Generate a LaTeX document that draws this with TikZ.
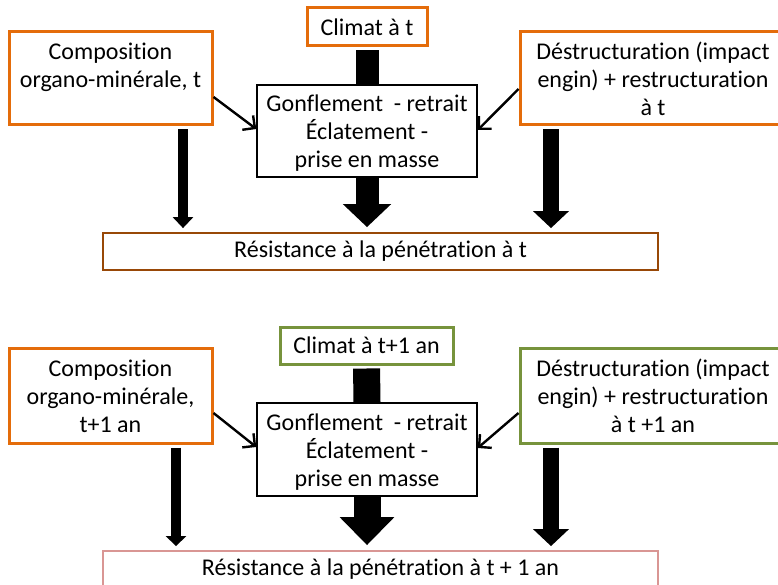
\documentclass[tikz,border=0pt]{standalone}
\usepackage{fontspec}
\setmainfont{Carlito}[Ligatures=NoCommon]
\usetikzlibrary{arrows.meta}
\definecolor{orng}{HTML}{E46C0A}
\definecolor{grn}{HTML}{77933C}
\definecolor{brwn}{HTML}{984807}
\definecolor{pnk}{HTML}{D99694}
\newcommand{\TopL}{\rule{0pt}{26pt}}
\newcommand{\BotL}{\rule[-8.4pt]{0pt}{0pt}}
\begin{document}
\begin{tikzpicture}[x=1pt,y=-1pt,
  box/.style={draw, inner sep=0pt, align=center, fill=white, font=\fontsize{24}{28}\selectfont},
  obox/.style={box, draw=orng, line width=3pt},
  gbox/.style={box, draw=grn, line width=3pt},
  kbox/.style={box, draw=black, line width=1.5pt},
  thinarrow/.style={line width=2.4pt, -{Straight Barb[length=9pt,width=18pt,line width=2.4pt]}}
]
\useasboundingbox (0,0) rectangle (778,585);
\clip (0,0) rectangle (778,585);

% ---------- top half ----------
\node[obox, minimum width=203pt, minimum height=93pt] (c1) at (110.5,78.5) {\TopL Composition\\organo-minérale, t\\\BotL};
\node[obox, minimum width=120pt, minimum height=38pt] (k1) at (367,27) {Climat à t};
\node[kbox, minimum width=220pt, minimum height=92pt] (g1) at (367,131) {\TopL Gonflement \ - retrait\\Éclatement -\\prise en masse\BotL};
\node[obox, minimum width=266pt, minimum height=93pt] (d1) at (653,78.5) {\TopL Déstructuration (impact\\engin) + restructuration\\à t\BotL};
\node[box, draw=brwn, line width=1.8pt, minimum width=555pt, minimum height=37pt] (r1) at (380.5,251.5) {Résistance à la pénétration à t};

\draw[line width=23pt, shorten <=3pt] (k1.south) -- (g1.north);
\draw[line width=23pt, -{Triangle[width=47pt,length=23pt]}, shorten >=5pt] (g1.south) -- (g1.south |- r1.north);
\coordinate (a1) at ([xshift=72.5pt,yshift=-3pt]c1.south);
\draw[line width=10pt, -{Triangle[width=20pt,length=11pt]}, shorten >=4pt] (a1) -- (a1 |- r1.north);
\coordinate (b1) at ([xshift=-102pt,yshift=-3pt]d1.south);
\draw[line width=16pt, -{Triangle[width=35pt,length=17pt]}, shorten >=4pt] (b1) -- (b1 |- r1.north);
\draw[thinarrow] (c1.east |- 0,97) -- (g1.west |- 0,129);
\draw[thinarrow] (d1.west |- 0,89) -- (g1.east |- 0,130);

% ---------- bottom half ----------
\node[obox, minimum width=203pt, minimum height=95pt] (c2) at (110.5,395.5) {\TopL Composition\\organo-minérale,\\t+1 an\BotL};
\node[gbox, minimum width=173pt, minimum height=37pt] (k2) at (366.5,345.5) {Climat à t+1 an};
\node[kbox, minimum width=220pt, minimum height=93pt] (g2) at (367,449.5) {\TopL Gonflement \ - retrait\\Éclatement -\\prise en masse\BotL};
\node[gbox, minimum width=266pt, minimum height=95pt] (d2) at (653,395.5) {\TopL Déstructuration (impact\\engin) + restructuration\\à t +1 an\BotL};
\node[box, draw=pnk, line width=1.8pt, minimum width=555pt, minimum height=37pt] (r2) at (380.5,569.5) {Résistance à la pénétration à t + 1 an};

\draw[line width=27pt, shorten <=3pt] (k2.south) -- (g2.north);
\draw[line width=27pt, -{Triangle[width=53pt,length=28pt]}, shorten >=5pt] (g2.south) -- (g2.south |- r2.north);
\coordinate (a2) at ([xshift=65.5pt,yshift=-3pt]c2.south);
\draw[line width=10pt, -{Triangle[width=20pt,length=10pt]}, shorten >=4pt] (a2) -- (a2 |- r2.north);
\coordinate (b2) at ([xshift=-102pt,yshift=-3pt]d2.south);
\draw[line width=16pt, -{Triangle[width=35pt,length=17pt]}, shorten >=4pt] (b2) -- (b2 |- r2.north);
\draw[thinarrow] (c2.east |- 0,413) -- (g2.west |- 0,447);
\draw[thinarrow] (d2.west |- 0,413) -- (g2.east |- 0,448);
\end{tikzpicture}
\end{document}
